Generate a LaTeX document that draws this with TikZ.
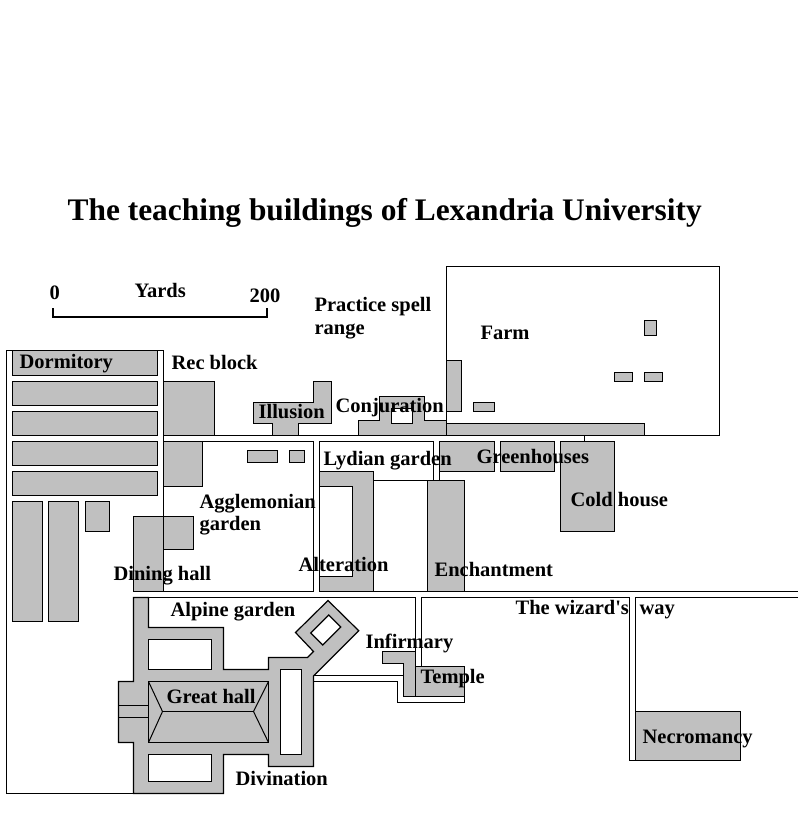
\documentclass[tikz,border=0pt]{standalone}
\usepackage{fontspec}
\setmainfont{Liberation Serif}
\usepackage{xcolor}
\definecolor{stone}{HTML}{C0C0C0}
\definecolor{inkblack}{HTML}{000000}
\begin{document}
\begin{tikzpicture}[x=1pt,y=-1pt,line width=1.2pt,draw=inkblack]
              \tikzstyle{bldg}=[fill=stone,draw=inkblack]
              \tikzstyle{yard}=[fill=white,draw=inkblack]
              \tikzstyle{roof}=[draw=inkblack,line width=1pt]
              \tikzstyle{lbl}=[anchor=base west,inner sep=0pt,font=\bfseries\fontsize{20.5}{22}\selectfont,text=inkblack]
              \useasboundingbox (0,0) rectangle (808,828);

              % grounds and roads
              \draw (133.5,793.5) -- (6.5,793.5) -- (6.5,350.5) -- (163.5,350.5) -- (163.5,591.5);
              \draw (163.5,441.5) rectangle (313.5,591.5);
              \draw (163.5,435.5) -- (719.5,435.5) -- (719.5,266.5) -- (446.5,266.5) -- (446.5,435.5);
              \draw (319.5,591.5) -- (319.5,441.5) -- (433.5,441.5) -- (433.5,480.5) -- (373.5,480.5);
              \draw (439.5,441.5) -- (439.5,480.5) -- (427.5,480.5);
              \draw (584.5,435.5) -- (584.5,441.5);
              \draw (319.5,591.5) -- (464.5,591.5);
              \draw (464.5,591.5) -- (798,591.5);
              \draw (133.5,597.5) -- (415.5,597.5) -- (415.5,696.5);
              \draw (421.5,666.5) -- (421.5,597.5) -- (629.5,597.5) -- (629.5,760.5) -- (635.5,760.5);
              \draw (635.5,711.5) -- (635.5,597.5) -- (798,597.5);
              \draw (313.5,675.5) -- (403.5,675.5);
              \draw (313.5,681.5) -- (397.5,681.5) -- (397.5,702.5) -- (464.5,702.5) -- (464.5,696.5);

              % dormitory row
              \foreach \ya/\yb in {350.5/375.5,381.5/405.5,411.5/435.5,441.5/465.5,471.5/495.5}
                \draw[bldg] (12.5,\ya) rectangle (157.5,\yb);
              \draw[bldg] (12.5,501.5) rectangle (42.5,621.5);
              \draw[bldg] (48.5,501.5) rectangle (78.5,621.5);
              \draw[bldg] (85.5,501.5) rectangle (109.5,531.5);

              % rec block and dining hall
              \draw[bldg] (163.5,381.5) rectangle (214.5,435.5);
              \draw[bldg] (163.5,441.5) rectangle (202.5,486.5);
              \draw[bldg] (133.5,516.5) rectangle (163.5,591.5);
              \draw[bldg] (163.5,516.5) rectangle (193.5,549.5);
              \draw[bldg] (247.5,450.5) rectangle (277.5,462.5);
              \draw[bldg] (289.5,450.5) rectangle (304.5,462.5);

              % illusion, conjuration
              \draw[bldg] (313.5,381.5) -- (331.5,381.5) -- (331.5,423.5) -- (298.5,423.5) -- (298.5,435.5) -- (272.5,435.5)
                -- (272.5,423.5) -- (253.5,423.5) -- (253.5,402.5) -- (313.5,402.5) -- cycle;
              \draw[bldg] (358.5,435.5) -- (358.5,420.5) -- (379.5,420.5) -- (379.5,396.5) -- (424.5,396.5)
                -- (424.5,420.5) -- (446.5,420.5) -- (446.5,435.5) -- cycle;
              \draw[yard] (391.5,408.5) rectangle (412.5,423.5);

              % farm
              \draw[bldg] (446.5,360.5) rectangle (461.5,411.5);
              \draw[bldg] (473.5,402.5) rectangle (494.5,411.5);
              \draw[bldg] (446.5,423.5) rectangle (644.5,435.5);
              \draw[bldg] (644.5,320.5) rectangle (656.5,335.5);
              \draw[bldg] (614.5,372.5) rectangle (632.5,381.5);
              \draw[bldg] (644.5,372.5) rectangle (662.5,381.5);

              % greenhouses, cold house
              \draw[bldg] (439.5,441.5) rectangle (494.5,471.5);
              \draw[bldg] (500.5,441.5) rectangle (554.5,471.5);
              \draw[bldg] (560.5,441.5) rectangle (614.5,531.5);

              % alteration, enchantment
              \draw[bldg] (319.5,471.5) rectangle (373.5,591.5);
              \draw[yard] (319.5,486.5) rectangle (352.5,576.5);
              \draw[bldg] (427.5,480.5) rectangle (464.5,591.5);

              % great hall range
              \draw[bldg] (133.5,597.5) -- (148.5,597.5) -- (148.5,627.5) -- (223.5,627.5) -- (223.5,669.5)
                -- (268.5,669.5) -- (268.5,657.5) -- (307.5,657.5) -- (313.5,651.5) -- (295.5,632.5)
                -- (328,600.5) -- (358.7,630.7) -- (313.5,676) -- (313.5,766.5) -- (268.5,766.5) -- (268.5,754.5)
                -- (223.5,754.5) -- (223.5,793.5) -- (133.5,793.5) -- (133.5,742.5) -- (118.5,742.5)
                -- (118.5,681.5) -- (133.5,681.5) -- cycle;
              \draw[yard] (148.5,639.5) rectangle (211.5,669.5);
              \draw[yard] (148.5,754.5) rectangle (211.5,781.5);
              \draw[yard] (280.5,669.5) rectangle (301.5,754.5);
              \draw[yard] (328.7,615) -- (340.7,627) -- (322.7,645) -- (310.7,633) -- cycle;
              \draw (118.5,705.5) -- (148.5,705.5);
              \draw (118.5,717.5) -- (148.5,717.5);
              \draw[bldg] (148.5,681.5) rectangle (268.5,742.5);
              \draw[roof] (148.5,681.5) -- (162.5,711.5) -- (148.5,742.5);
              \draw[roof] (268.5,681.5) -- (253.5,711.5) -- (268.5,742.5);
              \draw[roof] (162.5,711.5) -- (253.5,711.5);

              % infirmary, temple, necromancy
              \draw[bldg] (382.5,651.5) -- (415.5,651.5) -- (415.5,696.5) -- (403.5,696.5) -- (403.5,663.5)
                -- (382.5,663.5) -- cycle;
              \draw[bldg] (415.5,666.5) rectangle (464.5,696.5);
              \draw[bldg] (635.5,711.5) rectangle (740.5,760.5);

              % scale bar
              \coordinate (barL) at (53,317);
              \coordinate (barR) at (266.5,317);
              \draw[line width=2pt] (53,308) -- (barL) -- (barR) -- (266.5,308);

              % labels
              \node[lbl,font=\bfseries\fontsize{31.4}{34}\selectfont] (title) at (67,220) {The teaching buildings of Lexandria University};
              \node[lbl] (zero) at (49,299) {0};
              \node[lbl] (yards) at (134,297) {Yards};
              \node[lbl] (twohundred) at (249,302) {200};
              \node[lbl] (spell) at (314,311) {Practice spell};
              \node[lbl] (range) at (314,334) {range};
              \node[lbl] (farm) at (480,339) {Farm};
              \node[lbl] (dorm) at (19,368) {Dormitory};
              \node[lbl] (rec) at (171,369) {Rec block};
              \node[lbl] (illusion) at (258,418) {Illusion};
              \node[lbl] (conj) at (335,412) {Conjuration};
              \node[lbl] (lydian) at (323,465) {Lydian garden};
              \node[lbl] (green) at (476,463) {Greenhouses};
              \node[lbl] (cold) at (570,506) {Cold house};
              \node[lbl] (aggle) at (199,508) {Agglemonian};
              \node[lbl] (aggleb) at (199,530) {garden};
              \node[lbl] (alter) at (298,571) {Alteration};
              \node[lbl] (ench) at (434,576) {Enchantment};
              \node[lbl] (dining) at (113,580) {Dining hall};
              \node[lbl] (alpine) at (170,616) {Alpine garden};
              \node[lbl] (wizard) at (515,614) {The wizard\textquotesingle s};
              \node[lbl] (way) at (639,614) {way};
              \node[lbl] (infirm) at (365,648) {Infirmary};
              \node[lbl] (temple) at (420,683) {Temple};
              \node[lbl] (hall) at (166,703) {Great hall};
              \node[lbl] (divin) at (235,785) {Divination};
              \node[lbl] (necro) at (642,743) {Necromancy};
\end{tikzpicture}
\end{document}
